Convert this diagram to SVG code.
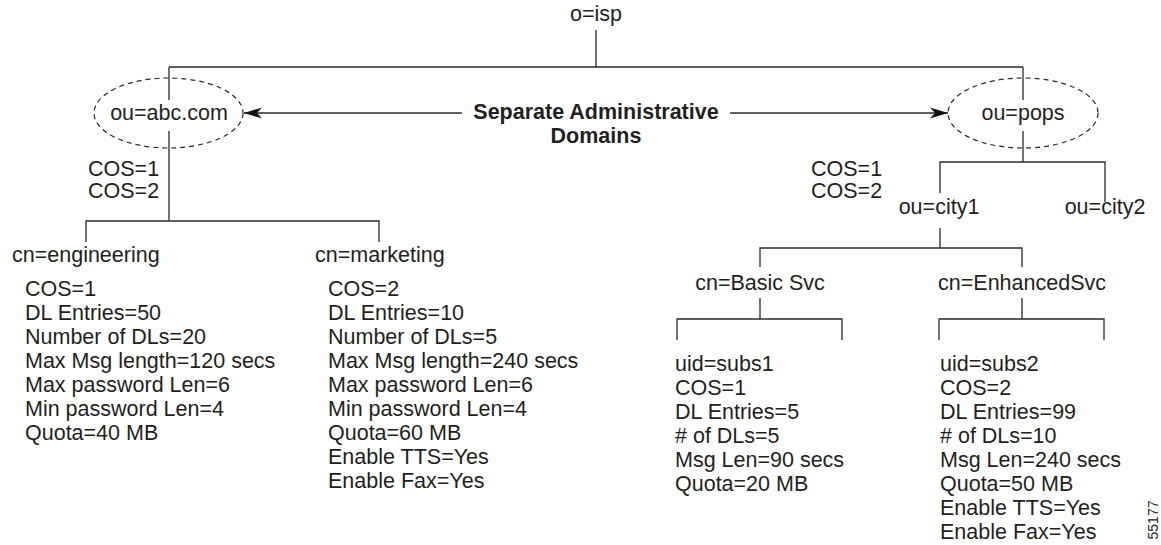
<svg xmlns="http://www.w3.org/2000/svg" width="1161" height="545" viewBox="0 0 1161 545">
<style>
text{font-family:"Liberation Sans",Arial,Helvetica,sans-serif;font-size:21.5px;fill:#231f20}
.b{font-weight:bold}
.m{text-anchor:middle}
.ln{stroke:#2a2a2a;stroke-width:1.3;fill:none}
.el{stroke:#2a2a2a;stroke-width:1.2;fill:none;stroke-dasharray:5 4}
</style>
<defs>
<marker id="ah" markerWidth="19" markerHeight="14" refX="18" refY="7" orient="auto" markerUnits="userSpaceOnUse">
<path d="M0,1.5 L18,7 L0,12.5 L5,7 Z" fill="#111"/>
</marker>
</defs>
<rect width="1161" height="545" fill="#fff"/>
<g id="connectors" class="ln">
<path d="M596,30 V67 M169,67 H1023 M169,67 V100 M169,131 V221 M1023,67 V100 M1023,131 V162"/>
<path d="M86,242 V221 H379 V242"/>
<path d="M940,193 V162 H1105 V202"/>
<path d="M940,228 V248 M760,267 V248 H1022 V267"/>
<path d="M760,298 V319 M677,340 V319 H842 V340"/>
<path d="M1022,298 V319 M939,340 V319 H1104 V340"/>
<path d="M462,113 H244" marker-end="url(#ah)"/>
<path d="M730,113 H948" marker-end="url(#ah)"/>
</g>
<g id="isp"><text class="m" x="596" y="21">o=isp</text></g>
<g id="abc">
<ellipse class="el" cx="168.5" cy="113" rx="74.5" ry="35"/>
<text class="m" x="169" y="120">ou=abc.com</text>
</g>
<g id="abc-cos"><text x="88" y="176">COS=1</text><text x="88" y="198">COS=2</text></g>
<g id="domains-label">
<text class="b m" x="596" y="119">Separate Administrative</text>
<text class="b m" x="596" y="143">Domains</text>
</g>
<g id="pops">
<ellipse class="el" cx="1023" cy="113" rx="75" ry="35"/>
<text class="m" x="1023" y="120">ou=pops</text>
</g>
<g id="pops-cos"><text x="811" y="176">COS=1</text><text x="811" y="198">COS=2</text></g>
<g id="city1"><text class="m" x="939" y="214">ou=city1</text></g>
<g id="city2"><text class="m" x="1105" y="214">ou=city2</text></g>
<g id="engineering">
<text x="12" y="262">cn=engineering</text>
<text x="25" y="296">COS=1</text>
<text x="25" y="320">DL Entries=50</text>
<text x="25" y="344">Number of DLs=20</text>
<text x="25" y="368">Max Msg length=120 secs</text>
<text x="25" y="392">Max password Len=6</text>
<text x="25" y="416">Min password Len=4</text>
<text x="25" y="440">Quota=40 MB</text>
</g>
<g id="marketing">
<text x="315" y="262">cn=marketing</text>
<text x="328" y="296">COS=2</text>
<text x="328" y="320">DL Entries=10</text>
<text x="328" y="344">Number of DLs=5</text>
<text x="328" y="368">Max Msg length=240 secs</text>
<text x="328" y="392">Max password Len=6</text>
<text x="328" y="416">Min password Len=4</text>
<text x="328" y="440">Quota=60 MB</text>
<text x="328" y="464">Enable TTS=Yes</text>
<text x="328" y="488">Enable Fax=Yes</text>
</g>
<g id="basic"><text class="m" x="760" y="290">cn=Basic Svc</text></g>
<g id="enhanced"><text class="m" x="1022" y="290">cn=EnhancedSvc</text></g>
<g id="subs1">
<text x="675" y="371">uid=subs1</text>
<text x="675" y="395">COS=1</text>
<text x="675" y="419">DL Entries=5</text>
<text x="675" y="443"># of DLs=5</text>
<text x="675" y="467">Msg Len=90 secs</text>
<text x="675" y="491">Quota=20 MB</text>
</g>
<g id="subs2">
<text x="940" y="371">uid=subs2</text>
<text x="940" y="395">COS=2</text>
<text x="940" y="419">DL Entries=99</text>
<text x="940" y="443"># of DLs=10</text>
<text x="940" y="467">Msg Len=240 secs</text>
<text x="940" y="491">Quota=50 MB</text>
<text x="940" y="515">Enable TTS=Yes</text>
<text x="940" y="539">Enable Fax=Yes</text>
</g>
<g id="figid"><text class="m" x="1158" y="520" transform="rotate(-90 1158 520)" style="font-size:14px">55177</text></g>
</svg>
